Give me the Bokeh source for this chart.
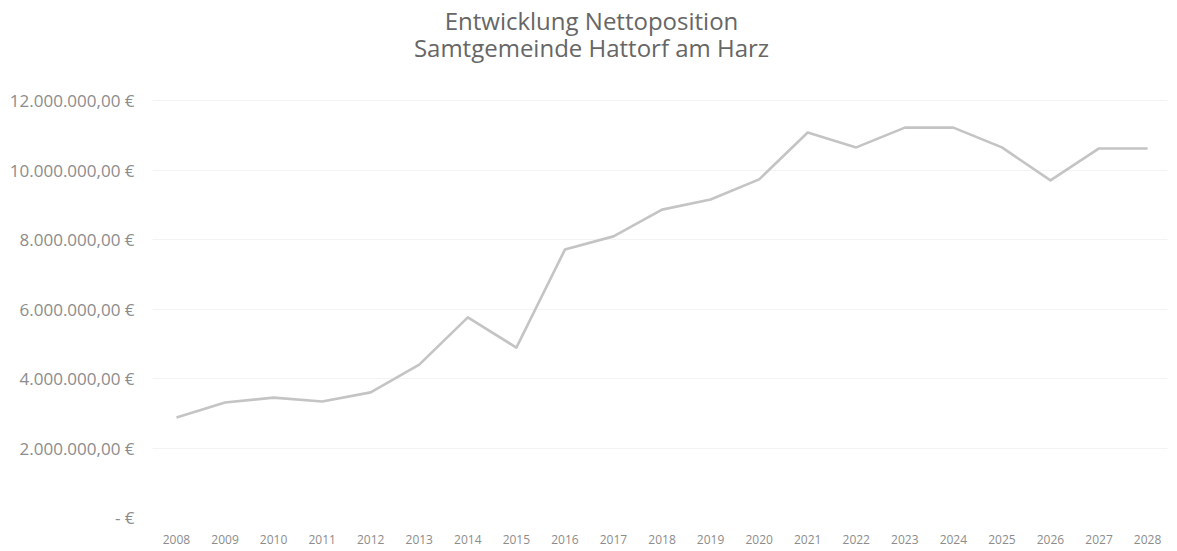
from bokeh.plotting import figure
from bokeh.models import Range1d, FixedTicker
from bokeh.core.properties import value
from bokeh.embed import file_html
from bokeh.resources import INLINE

years = [2008, 2009, 2010, 2011, 2012, 2013, 2014, 2015, 2016, 2017, 2018,
         2019, 2020, 2021, 2022, 2023, 2024, 2025, 2026, 2027, 2028]
year_labels = [str(y) for y in years]
nettoposition = [2880000, 3310000, 3450000, 3340000, 3600000, 4400000, 5760000,
                 4890000, 7710000, 8090000, 8860000, 9150000, 9730000, 11080000,
                 10650000, 11220000, 11220000, 10650000, 9700000, 10620000, 10620000]
y_ticks = [0, 2000000, 4000000, 6000000, 8000000, 10000000, 12000000]
y_tick_labels = ["- €", "2.000.000,00 €", "4.000.000,00 €", "6.000.000,00 €",
                 "8.000.000,00 €", "10.000.000,00 €", "12.000.000,00 €"]
title_lines = ["Entwicklung Nettoposition", "Samtgemeinde Hattorf am Harz"]

FONT = "Open Sans"
TXT = "#8c8c8c"

FRAME_H = 517
Y_TOP = 12000000 * FRAME_H / 417.0   # leaves room above the plot area for the title

p = figure(frame_width=1015, frame_height=FRAME_H,
           min_border_left=152, min_border_right=1, min_border_top=0, min_border_bottom=30,
           x_range=Range1d(2007.506, 2028.41), y_range=Range1d(0, Y_TOP),
           output_backend="svg", toolbar_location=None, background_fill_color="white",
           border_fill_color="white")
p.outline_line_color = None

p.line(years, nettoposition, line_color="#c4c4c4", line_width=2.6, line_join="round")

p.xaxis.ticker = FixedTicker(ticks=years)
p.xaxis.major_label_overrides = {y: l for y, l in zip(years, year_labels)}
p.yaxis.ticker = FixedTicker(ticks=y_ticks)
p.yaxis.major_label_overrides = {t: l for t, l in zip(y_ticks, y_tick_labels)}

for ax in (p.xaxis, p.yaxis):
    ax.axis_line_color = None
    ax.major_tick_line_color = None
    ax.minor_tick_line_color = None
    ax.major_label_text_font = FONT
    ax.major_label_text_color = TXT
p.xaxis.major_label_text_font_size = "12px"
p.yaxis.major_label_text_font_size = "17px"
p.yaxis.major_label_standoff = 12
p.xaxis.major_label_standoff = 11

p.xgrid.grid_line_color = None
p.ygrid.grid_line_color = "#f3f3f3"
p.ygrid.grid_line_width = 1

# chart title (two lines), centred over the whole chart
title_x = 2007.506 + (591 - 152) / (1015 / 20.904)
title_y = [Y_TOP * (FRAME_H - 20) / FRAME_H, Y_TOP * (FRAME_H - 47) / FRAME_H]
p.text(x=[title_x, title_x], y=title_y, text=title_lines,
       text_font=value(FONT), text_font_size="24px", text_color="#666666",
       text_align="center", text_baseline="middle")

open("out.html", "w").write(file_html(p, INLINE))
